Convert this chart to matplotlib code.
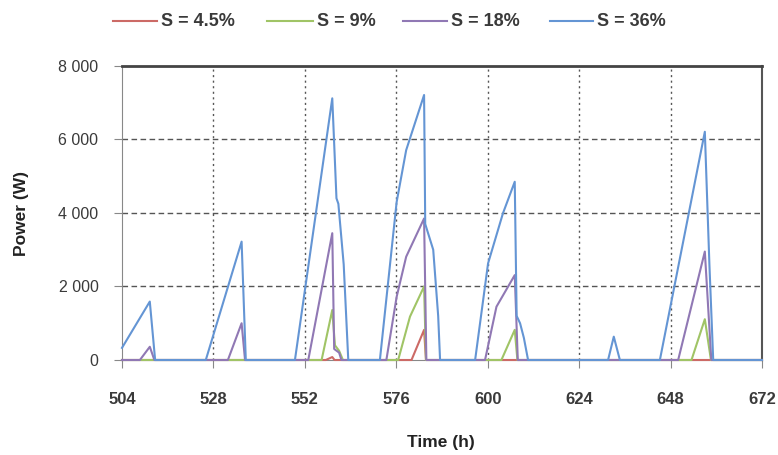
import matplotlib
matplotlib.use("Agg")
import matplotlib.pyplot as plt
from matplotlib.ticker import FuncFormatter
from matplotlib.lines import Line2D

plt.rcParams["font.family"] = ["Liberation Sans", "DejaVu Sans"]

# power curves, breakpoints (time in h, power in W)
t_s45 = [504, 557.5, 559.2, 559.8, 580.0, 583.3, 583.8, 672]
p_s45 = [0, 0, 80, 0, 0, 820, 0, 0]

t_s9 = [504, 556.4, 559.2, 559.9, 561.0, 562.0, 576.5, 579.6, 583.3, 583.8,
        603.6, 607.1, 607.8, 653.5, 657.0, 658.6, 672]
p_s9 = [0, 0, 1360, 400, 250, 0, 0, 1180, 2000, 0,
        0, 820, 0, 0, 1110, 0, 0]

t_s18 = [504, 508.7, 511.3, 512.5, 531.8, 535.4, 536.3, 552.9, 559.2, 559.7,
         561.0, 561.6, 573.4, 576.1, 578.6, 583.3, 583.9, 599.3, 602.3, 607.1,
         607.9, 650.0, 657.0, 658.7, 672]
p_s18 = [0, 0, 360, 0, 0, 1000, 0, 0, 3450, 300,
         200, 0, 0, 1720, 2810, 3850, 0, 0, 1450, 2310,
         0, 0, 2950, 0, 0]

t_s36 = [504, 511.3, 512.7, 526.0, 535.4, 536.5, 549.4, 559.2, 560.3, 560.8,
         562.2, 563.4, 571.7, 576.1, 578.6, 583.3, 583.6, 585.7, 587.0, 587.5,
         596.7, 600.1, 604.0, 607.1, 607.6, 608.5, 609.5, 610.6, 631.6, 633.1,
         634.7, 645.2, 657.0, 658.2, 659.2, 672]
p_s36 = [330, 1590, 0, 0, 3220, 0, 0, 7120, 4400, 4250,
         2600, 0, 0, 4300, 5710, 7210, 3700, 3000, 1200, 0,
         0, 2630, 3990, 4850, 1200, 1000, 600, 0, 0, 635,
         0, 0, 6210, 2600, 0, 0]

labels = ["S = 4.5%", "S = 9%", "S = 18%", "S = 36%"]
colors = ["#CC6A66", "#A0C466", "#9078B4", "#6495D4"]

x_ticks = [504, 528, 552, 576, 600, 624, 648, 672]
y_ticks = [0, 2000, 4000, 6000, 8000]

fig = plt.figure(figsize=(7.78, 4.55), dpi=100)
ax = fig.add_axes([0.1568, 0.2088, 0.8226, 0.6462])

series = [(t_s45, p_s45), (t_s9, p_s9), (t_s18, p_s18), (t_s36, p_s36)]
for (t, p), c in zip(series, colors):
    ax.plot(t, p, color=c, lw=1.5, zorder=3, clip_on=False)

ax.set_xlim(504, 672)
ax.set_ylim(0, 8000)
ax.set_xticks(x_ticks)
ax.set_yticks(y_ticks)
ax.yaxis.set_major_formatter(FuncFormatter(lambda v, pos: f"{int(v):,}".replace(",", " ")))

# gridlines: dotted verticals, dashed horizontals
for x in x_ticks[1:-1]:
    ax.axvline(x, color="#555555", lw=1.0, ls=(0, (1.5, 2.5)), zorder=1)
for y in y_ticks[1:-1]:
    ax.axhline(y, color="#555555", lw=1.0, ls=(0, (4, 2.5)), zorder=1)

ax.spines["top"].set_color("#444444")
ax.spines["top"].set_linewidth(2.0)
ax.spines["right"].set_color("#555555")
ax.spines["right"].set_linewidth(1.5)
ax.spines["left"].set_color("#888888")
ax.spines["bottom"].set_color("#888888")

ax.tick_params(axis="both", direction="out", length=6, color="#888888", labelcolor="#3a3a3a")
ax.tick_params(axis="x", labelsize=12, pad=17)
ax.tick_params(axis="y", labelsize=11.5, pad=11)
for lbl in ax.get_xticklabels():
    lbl.set_fontweight("bold")

fig.text(441 / 778, 1 - 442 / 455, "Time (h)", ha="center", va="center",
         fontsize=12.5, fontweight="bold", color="#222222")
fig.text(22 / 778, 1 - 213 / 455, "Power (W)", ha="center", va="center", rotation=90,
         fontsize=12.5, fontweight="bold", color="#222222")

# legend row across the top
leg_y = 1 - 21 / 455
leg_lines = [(113, 157), (267, 313), (403, 447), (550, 593)]
for (x0, x1), c, lab in zip(leg_lines, colors, labels):
    fig.add_artist(Line2D([x0 / 778, x1 / 778], [leg_y, leg_y], color=c, lw=1.5,
                          transform=fig.transFigure))
    fig.text((x1 + 4) / 778, leg_y, lab, ha="left", va="center",
             fontsize=13, fontweight="bold", color="#3a3a3a")

fig.savefig("out.png", dpi=100)
